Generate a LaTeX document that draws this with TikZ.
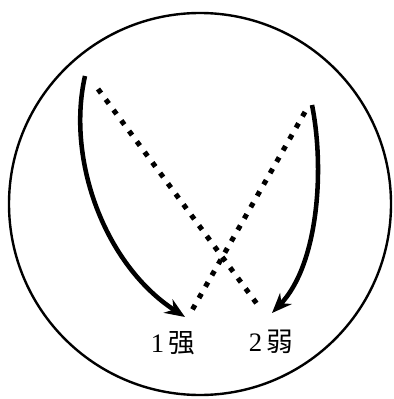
\documentclass[tikz,border=0pt]{standalone}
\usepackage{fontspec}
\setmainfont{Liberation Serif}
\newfontfamily\cjk{Noto Sans CJK SC}
\usetikzlibrary{arrows.meta}

\begin{document}
\begin{tikzpicture}[x=0.75pt,y=-0.75pt,>={Stealth[length=15pt,width=12pt]},
  curvearrow/.style={line width=3.4pt,->},
  dots/.style={line width=3.8pt,dash pattern=on 3.8pt off 6pt},
  lab/.style={font=\fontsize{20}{22}\selectfont}]
\useasboundingbox (0,0) rectangle (393,399);
\draw[line width=1.8pt] (200,204) circle[radius=143.25pt];
% ends of the curved arrows
\coordinate (sa) at (85,76);
\coordinate (sb) at (185,317);
\coordinate (wa) at (312,105);
\coordinate (wb) at (272,313);
% ends of the dotted lines
\coordinate (da) at (98,89);
\coordinate (db) at (260,308);
\coordinate (dc) at (305,112);
\coordinate (dd) at (191,312);
\draw[dots] (da) -- (db);
\draw[dots] (dc) -- (dd);
\draw[curvearrow] (sa) .. controls (66,160) and (105,265) .. (sb);
\draw[curvearrow] (wa) .. controls (325,170) and (318,265) .. (wb);
\node[lab] (strong) at (173,343) {1\,{\cjk 强}};
\node[lab] (weak) at (271,342) {2\,{\cjk 弱}};
\end{tikzpicture}
\end{document}
